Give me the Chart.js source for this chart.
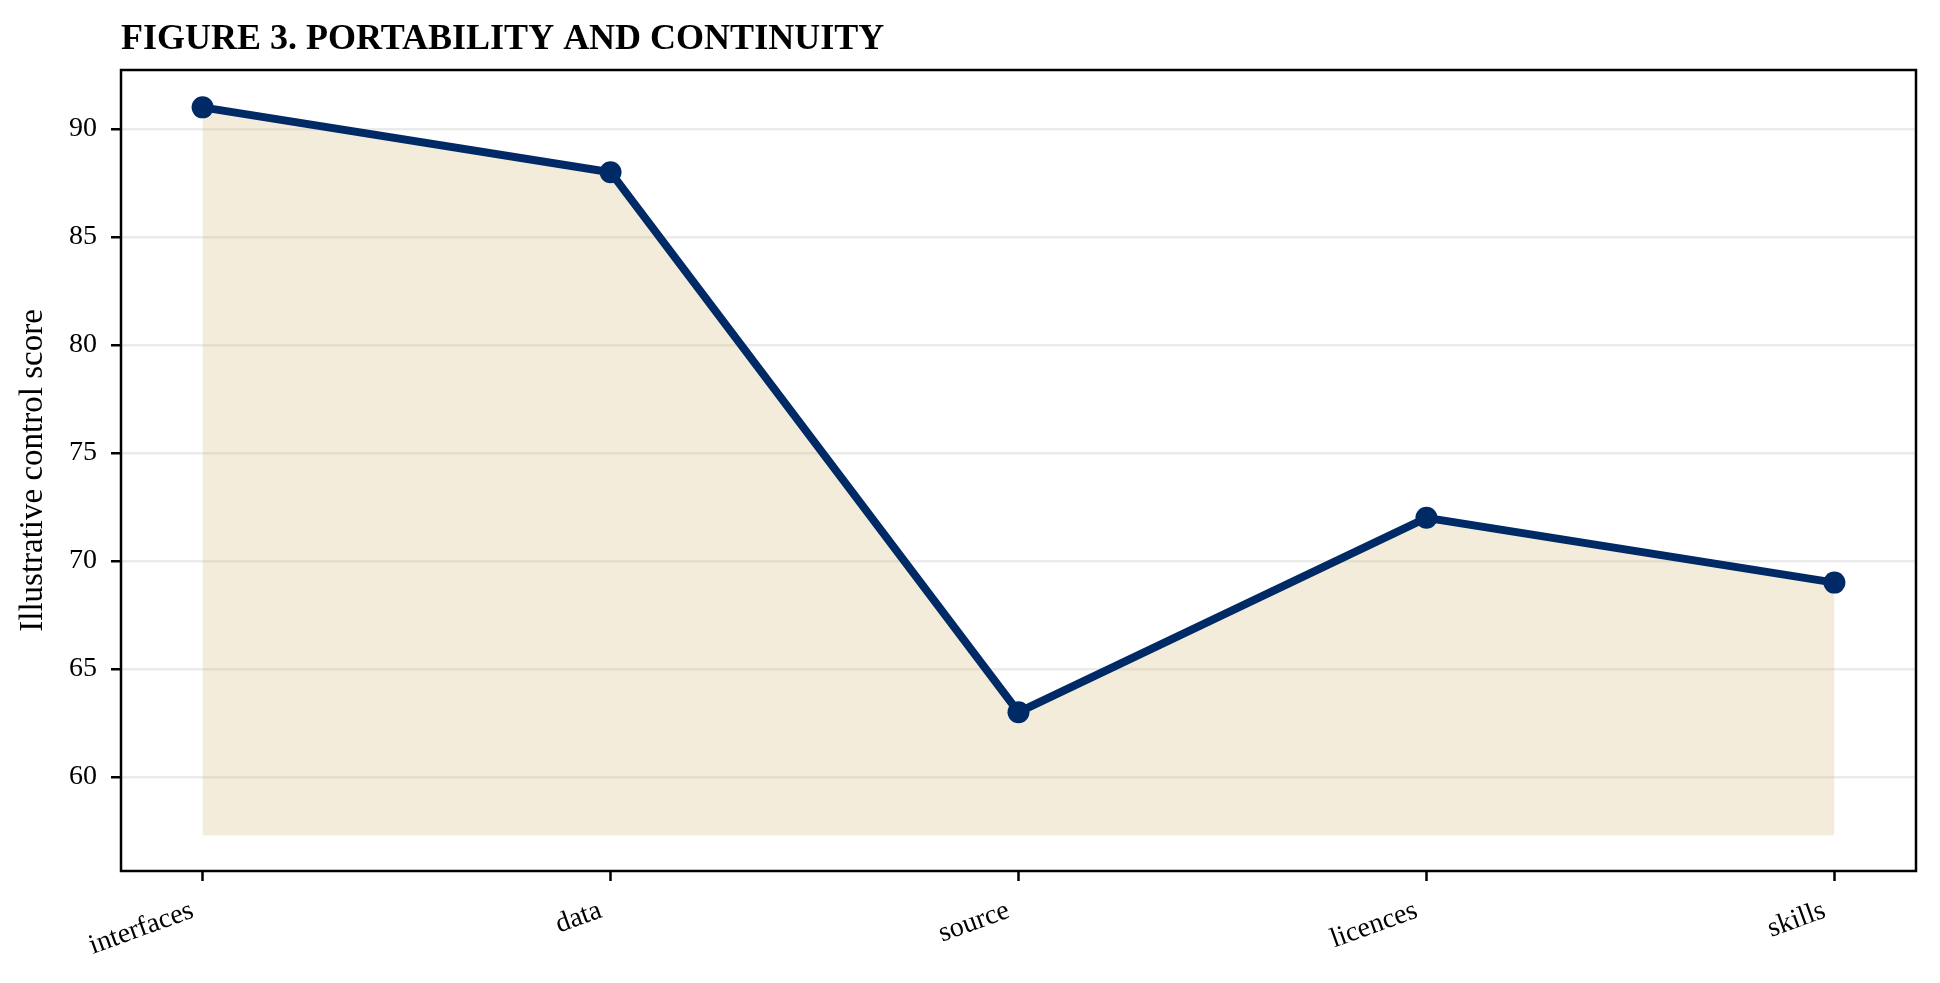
<!DOCTYPE html>
<html>
<head>
<meta charset="utf-8">
<script src="https://cdn.jsdelivr.net/npm/chart.js@4.4.1/dist/chart.umd.min.js"></script>
<style>
  html, body { margin: 0; padding: 0; background: #ffffff; }
  #wrap { width: 1940px; height: 983px; }
</style>
</head>
<body>
<div id="wrap"><canvas id="c" width="1940" height="983"></canvas></div>
<script>
const titleText = 'FIGURE 3. PORTABILITY AND CONTINUITY';
const yAxisLabel = 'Illustrative control score';
const categories = ['interfaces', 'data', 'source', 'licences', 'skills'];
const scores = [91, 88, 63, 72, 69];
const yTickValues = [60, 65, 70, 75, 80, 85, 90];
const fillBase = 57.3;

const navy = '#002a66';
const serif = "'Liberation Serif', 'Times New Roman', serif";

const points = categories.map((c, i) => ({ x: i, y: scores[i] }));

const frame = {
  id: 'frame',
  afterLayout(chart) {
    if (chart.titleBlock) {
      chart.titleBlock.left = chart.chartArea.left;
    }
  },
  afterDraw(chart) {
    const { ctx, chartArea: a } = chart;
    ctx.save();
    ctx.strokeStyle = '#000000';
    ctx.lineWidth = 2.5;
    ctx.strokeRect(a.left, a.top, a.right - a.left, a.bottom - a.top);
    ctx.restore();
  }
};

new Chart(document.getElementById('c'), {
  type: 'line',
  data: {
    datasets: [
      {
        label: 'score',
        data: points,
        borderColor: navy,
        backgroundColor: navy,
        borderWidth: 8,
        pointRadius: 11,
        pointHoverRadius: 11,
        pointBackgroundColor: navy,
        pointBorderWidth: 0,
        fill: false,
        tension: 0,
        order: 1
      },
      {
        label: 'area',
        data: points,
        borderColor: 'rgba(212,180,106,0.30)',
        borderWidth: 2,
        backgroundColor: 'rgba(212,180,106,0.25)',
        pointRadius: 0,
        fill: { value: fillBase },
        tension: 0,
        order: 2
      }
    ]
  },
  options: {
    responsive: false,
    devicePixelRatio: 1,
    animation: false,
    layout: { padding: { left: 0, right: 24, top: 0, bottom: 0 } },
    plugins: {
      legend: { display: false },
      tooltip: { enabled: false },
      title: {
        display: true,
        text: titleText,
        align: 'start',
        color: '#000000',
        font: { family: serif, size: 36, weight: 'bold', lineHeight: 1.2 },
        padding: { top: 18.4, bottom: 8.4 }
      }
    },
    scales: {
      x: {
        type: 'linear',
        min: -0.2,
        max: 4.2,
        afterBuildTicks(scale) {
          scale.ticks = categories.map((c, i) => ({ value: i }));
        },
        afterFit(scale) { scale.height = 112; },
        ticks: {
          autoSkip: false,
          includeBounds: false,
          minRotation: 20,
          maxRotation: 20,
          padding: 13,
          labelOffset: -10,
          color: '#000000',
          font: { family: serif, size: 28 },
          callback: (v) => categories[v]
        },
        grid: {
          display: true,
          drawOnChartArea: false,
          tickColor: '#000000',
          tickLength: 10,
          tickWidth: 2.5
        },
        border: { display: false }
      },
      y: {
        type: 'linear',
        min: 55.65,
        max: 92.73,
        afterBuildTicks(scale) {
          scale.ticks = yTickValues.map(v => ({ value: v }));
        },
        afterFit(scale) { scale.width = 121; },
        ticks: {
          includeBounds: false,
          padding: 14,
          color: '#000000',
          font: { family: serif, size: 28 }
        },
        grid: {
          color: '#ebebeb',
          lineWidth: 2.5,
          tickColor: '#000000',
          tickLength: 10,
          tickWidth: 2.5
        },
        border: { display: false },
        title: {
          display: true,
          text: yAxisLabel,
          color: '#000000',
          font: { family: serif, size: 33, lineHeight: 1.2 },
          padding: { top: 14, bottom: 0 }
        }
      }
    }
  },
  plugins: [frame]
});
</script>
</body>
</html>
